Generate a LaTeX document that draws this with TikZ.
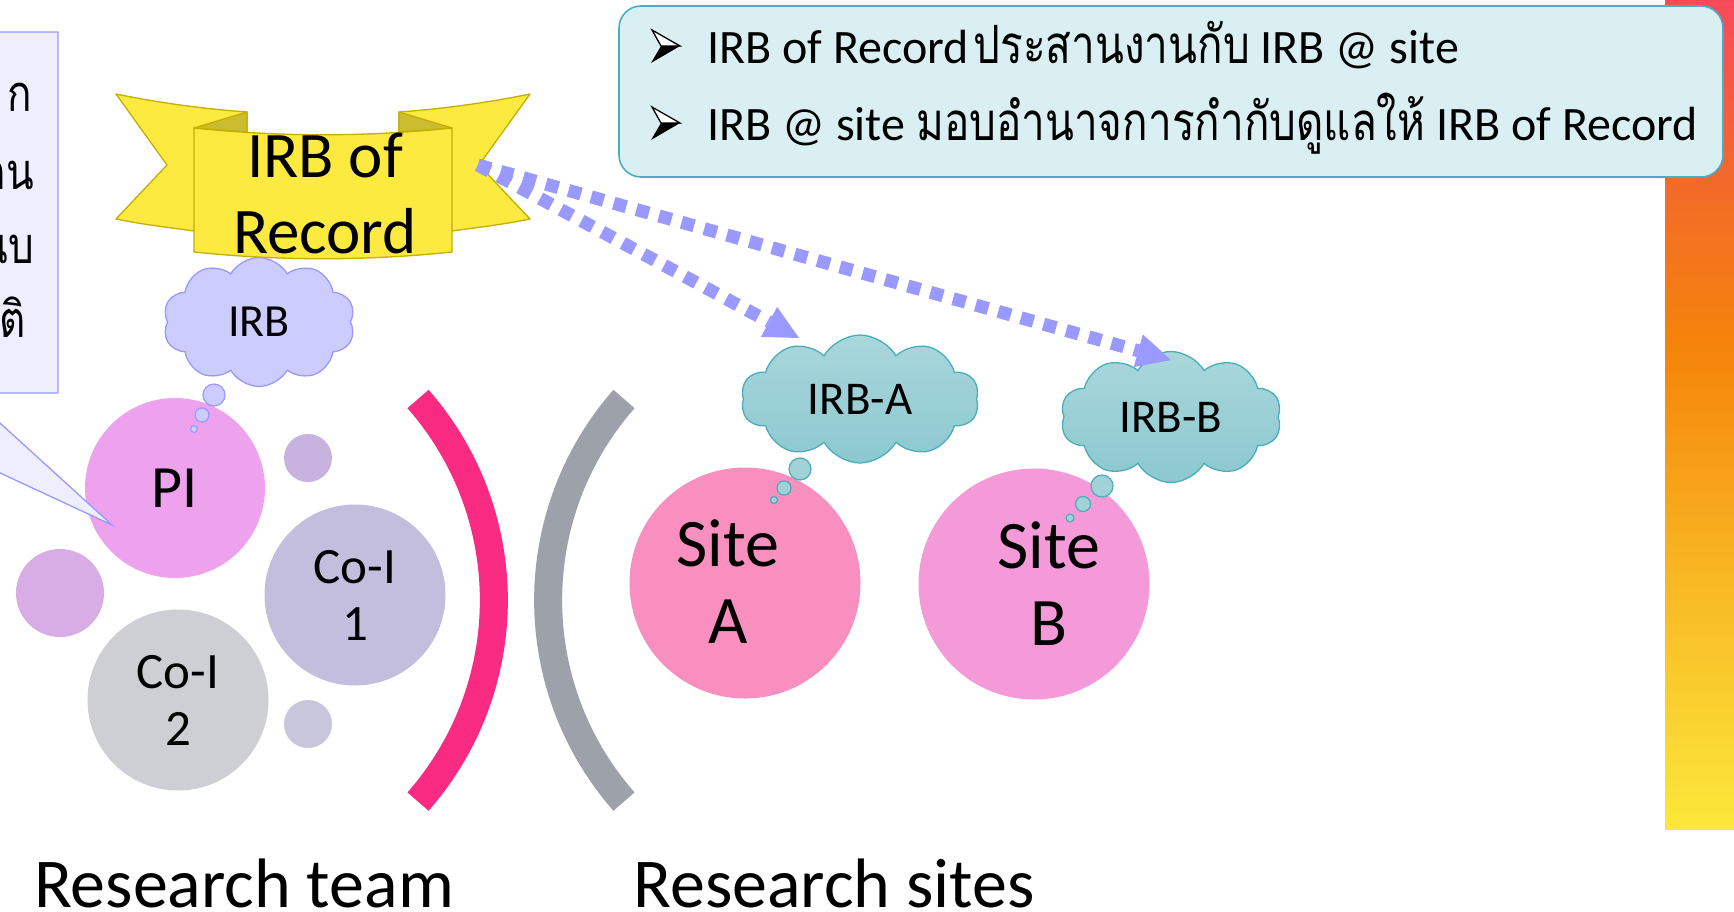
\documentclass[tikz,border=0pt]{standalone}
\usepackage{fontspec}
\setmainfont{Carlito}
\newfontfamily\thaifont[Script=Thai, Scale=1.1, FakeStretch=0.8]{Loma}
\usetikzlibrary{shapes.symbols,arrows.meta}

\definecolor{calloutfill}{HTML}{EEEEFF}
\definecolor{calloutdraw}{HTML}{9999FF}
\definecolor{ribbon}{HTML}{FCEA40}
\definecolor{ribbonedge}{HTML}{C4AE00}
\definecolor{ribbonfold}{HTML}{CCBC30}
\definecolor{irbfill}{HTML}{CCCCFF}
\definecolor{dotblue}{HTML}{9999FF}
\definecolor{notefill}{HTML}{D9EFF2}
\definecolor{noteedge}{HTML}{4BACC6}
\definecolor{piC}{HTML}{EEA2EE}
\definecolor{smallA}{HTML}{C8B2E0}
\definecolor{leftC}{HTML}{D8ADE6}
\definecolor{coiA}{HTML}{C3BEDE}
\definecolor{coiB}{HTML}{CDCFD4}
\definecolor{smallB}{HTML}{C8C6DA}
\definecolor{teamArc}{HTML}{F92A82}
\definecolor{siteArc}{HTML}{9CA1AA}
\definecolor{siteAC}{HTML}{F98FBE}
\definecolor{siteBC}{HTML}{F59AD8}
\definecolor{tealTop}{HTML}{A9D7DC}
\definecolor{tealBot}{HTML}{8CC8CF}
\definecolor{tealEdge}{HTML}{4AADB9}
\definecolor{barYellow}{HTML}{FBE83A}
\definecolor{barAmber}{HTML}{F8B824}
\definecolor{barOrange}{HTML}{F5840A}
\definecolor{barRust}{HTML}{F26A2A}
\definecolor{barRed}{HTML}{F84A5C}

\pgfdeclareverticalshading{barshade}{100bp}{%
  color(0bp)=(barYellow); color(25bp)=(barYellow); color(40bp)=(barAmber);
  color(54bp)=(barOrange); color(64bp)=(barRust); color(75bp)=(barRed);
  color(100bp)=(barRed)}

\newcommand\setpx[2]{\fontsize{#1}{#2}\selectfont}

\tikzset{
  blob/.style={circle, inner sep=0pt, draw=none, align=center},
  irbcloud/.style={cloud, cloud puffs=10, cloud puff arc=120, inner sep=0pt,
    line width=1.3pt, font=\setpx{46}{52}},
  tealcloud/.style={irbcloud, draw=tealEdge, top color=tealTop, bottom color=tealBot},
  tealbubble/.style={draw=tealEdge, line width=1.2pt, fill=tealTop!70!tealBot},
  lavbubble/.style={draw=dotblue, line width=1.2pt, fill=irbfill},
  ribbonpart/.style={fill=ribbon, draw=ribbonedge, line width=1.3pt, line join=round},
  dotarrow/.style={draw=dotblue, line width=13pt, dash pattern=on 13pt off 10.5pt,
    -{Triangle[length=34pt, width=34pt, line width=0pt, fill=dotblue]}},
  bracketarc/.style={line width=28pt},
  notetext/.style={anchor=base west, inner sep=0pt, font=\setpx{48}{56}},
  sidetext/.style={anchor=base east, inner sep=0pt, font=\thaifont\setpx{46}{52}},
}

\begin{document}
\begin{tikzpicture}[x=1pt, y=-1pt]
\useasboundingbox (0,0) rectangle (1734,911);
\clip (0,0) rectangle (1734,911);
\fill[white] (0,0) rectangle (1734,911);

% ---- research team ----
\node[blob, fill=leftC, minimum size=88pt] (dotL) at (60,593) {};
\node[blob, fill=smallA, minimum size=48pt] (dotT) at (308,458) {};
\node[blob, fill=smallB, minimum size=48pt] (dotB) at (308,724) {};
\node[blob, fill=piC, minimum size=180pt, font=\setpx{60}{70}] (pi) at (175,488) {PI};
\node[blob, fill=coiA, minimum size=181pt, font=\setpx{51}{57}] (coi1) at (355,595) {Co-I\\1};
\node[blob, fill=coiB, minimum size=181pt, font=\setpx{51}{57}] (coi2) at (178,700) {Co-I\\2};

% ---- callout on the left edge ----
\draw[fill=calloutfill, draw=calloutdraw, line width=1.3pt]
  (-300,32) -- (58,32) -- (58,393) -- (-33,393) -- (112,525) -- (-172,393)
  -- (-300,393) -- cycle;
\node[sidetext] (c1) at (32,111) {ก};
\node[sidetext] (c2) at (34,189) {ตน};
\node[sidetext] (c3) at (34,263) {นบ};
\node[sidetext] (c4) at (26,337) {ติ};

% ---- brackets ----
\draw[bracketarc, draw=teamArc] (418,399) arc[start angle=-41.3, end angle=41.3, radius=305];
\draw[bracketarc, draw=siteArc] (624,399) arc[start angle=221.3, end angle=138.7, radius=305];

% ---- research sites ----
\node[blob, fill=siteAC, minimum size=231pt] (siteA) at (745,583) {};
\node[blob, fill=siteBC, minimum size=231pt] (siteB) at (1034,584) {};
\node[align=center, inner sep=0pt, font=\setpx{68}{77}] (siteAtxt) at (728,582) {Site\\A};
\node[align=center, inner sep=0pt, font=\setpx{68}{77}] (siteBtxt) at (1049,584) {Site\\B};

% ---- IRB clouds ----
\node[irbcloud, draw=dotblue, fill=irbfill, aspect=1.5, minimum width=192pt, minimum height=129pt] (irb) at (259,322) {IRB};
\node[tealcloud, aspect=1.85, minimum width=238pt, minimum height=128pt, font=\setpx{47}{52}] (irbA) at (860,399) {IRB-A};
\node[tealcloud, aspect=1.7, minimum width=221pt, minimum height=131pt, font=\setpx{47}{52}] (irbB) at (1171,417) {IRB-B};

% thought bubbles
\draw[lavbubble] (214,395) circle[radius=11] (202,415) circle[radius=7] (194,429) circle[radius=3.5];
\draw[tealbubble] (800,469) circle[radius=11] (784,488) circle[radius=7] (774,500) circle[radius=3.5];
\draw[tealbubble] (1102,486) circle[radius=11] (1083,504) circle[radius=7.5] (1070,518) circle[radius=4];

% ---- ribbon banner ----
\draw[ribbonpart] (116,94) .. controls (160,103) and (205,109) .. (247,112) -- (247,231)
  -- (194,231) .. controls (165,227) and (140,224) .. (116,219) -- (167,165) -- cycle;
\draw[ribbonpart] (530,94) .. controls (486,103) and (441,109) .. (399,112) -- (399,231)
  -- (452,231) .. controls (481,227) and (506,224) .. (530,219) -- (479,165) -- cycle;
\draw[ribbonpart, fill=ribbonfold] (194,128) -- (247,112) -- (247,132) -- cycle;
\draw[ribbonpart, fill=ribbonfold] (452,128) -- (399,112) -- (399,132) -- cycle;
\draw[ribbonpart] (194,128) .. controls (280,137) and (366,137) .. (452,128) -- (452,252)
  .. controls (366,261) and (280,261) .. (194,252) -- cycle;
\node[align=center, inner sep=0pt, font=\setpx{65}{76}] (banner) at (325,193) {IRB of\\Record};
\coordinate (notch) at (478,165);

% ---- delegation arrows ----
\coordinate (tipA) at (799,338);
\coordinate (tipB) at (1171,360);
\draw[dotarrow] (notch) -- (tipA);
\draw[dotarrow] (notch) -- (tipB);

% ---- group captions ----
\node[anchor=base, inner sep=0pt, font=\setpx{70}{80}] (teamlbl) at (244,907) {Research team};
\node[anchor=base, inner sep=0pt, font=\setpx{70}{80}] (sitelbl) at (834,907) {Research sites};

% ---- gradient strip ----
\shade[shading=barshade] (1665,0) rectangle (1734,829);

% ---- note box ----
\node[draw=noteedge, fill=notefill, line width=1.6pt, rounded corners=22pt,
      minimum width=1104pt, minimum height=171pt, inner sep=0pt] (note) at (1171,91.5) {};
\foreach \yy in {0,77} {
  \draw[fill=white, line width=1.3pt, line join=miter] (652,30+\yy) -- (680,46+\yy) -- (661,46+\yy) -- cycle;
  \fill[black] (661,46+\yy) -- (680,46+\yy) -- (651,63+\yy) -- cycle;
}
\node[notetext] (line1) at (707,63) {IRB of Record\hspace{5pt}{\thaifont ประสานงานกับ} IRB @ site};
\node[notetext] (line2) at (707,140) {IRB @ site {\thaifont มอบอำนาจการกำกับดูแลให้} IRB of Record};
\end{tikzpicture}
\end{document}
